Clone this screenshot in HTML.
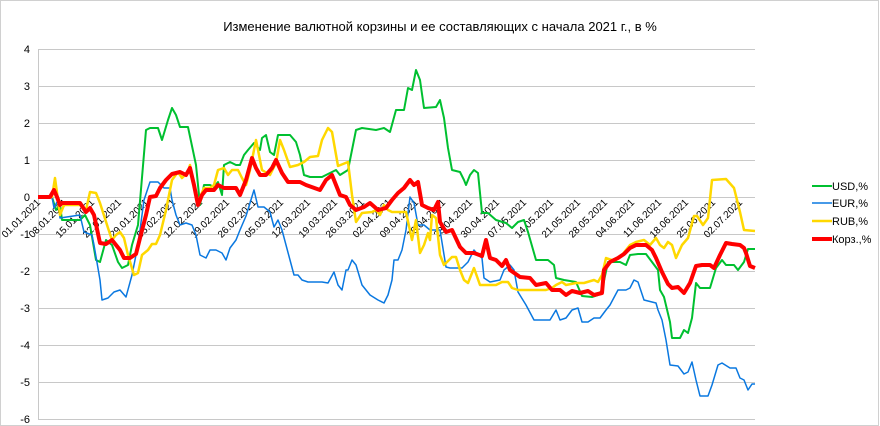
<!DOCTYPE html>
<html><head><meta charset="utf-8"><style>
html,body{margin:0;padding:0;background:#fff}
svg{display:block;font-family:"Liberation Sans",sans-serif}
</style></head><body>
<svg width="880" height="426" viewBox="0 0 880 426" xmlns="http://www.w3.org/2000/svg">
<rect x="0.5" y="0.5" width="878" height="425" fill="#fff" stroke="#d0d0d0"/>
<text x="440" y="31" font-size="13" text-anchor="middle" fill="#000">Изменение  валютной корзины  и ее составляющих  с начала 2021 г., в %</text>
<g stroke="#c8c8c8" stroke-width="1">
<line x1="38" x2="755" y1="49.5" y2="49.5"/><line x1="38" x2="755" y1="86.5" y2="86.5"/>
<line x1="38" x2="755" y1="123.5" y2="123.5"/><line x1="38" x2="755" y1="160.5" y2="160.5"/>
<line x1="38" x2="755" y1="197.5" y2="197.5"/><line x1="38" x2="755" y1="234.5" y2="234.5"/>
<line x1="38" x2="755" y1="271.5" y2="271.5"/><line x1="38" x2="755" y1="308.5" y2="308.5"/>
<line x1="38" x2="755" y1="345.5" y2="345.5"/><line x1="38" x2="755" y1="382.5" y2="382.5"/>
<line x1="38" x2="755" y1="419.5" y2="419.5"/>
<line x1="38.5" x2="38.5" y1="49" y2="420"/>
</g>
<g font-size="11" text-anchor="end" fill="#000">
<text x="30" y="53">4</text><text x="30" y="90">3</text><text x="30" y="127">2</text><text x="30" y="164">1</text><text x="30" y="201">0</text><text x="30" y="238">-1</text><text x="30" y="275">-2</text><text x="30" y="312">-3</text><text x="30" y="349">-4</text><text x="30" y="386">-5</text><text x="30" y="423">-6</text>
</g>
<g font-size="10" text-anchor="end" fill="#000">
<text transform="translate(41,203) rotate(-45)">01.01.2021</text>
<text transform="translate(68,203) rotate(-45)">08.01.2021</text>
<text transform="translate(95,203) rotate(-45)">15.01.2021</text>
<text transform="translate(122,203) rotate(-45)">22.01.2021</text>
<text transform="translate(149,203) rotate(-45)">29.01.2021</text>
<text transform="translate(176,203) rotate(-45)">05.02.2021</text>
<text transform="translate(203,203) rotate(-45)">12.02.2021</text>
<text transform="translate(230,203) rotate(-45)">19.02.2021</text>
<text transform="translate(257,203) rotate(-45)">26.02.2021</text>
<text transform="translate(284,203) rotate(-45)">05.03.2021</text>
<text transform="translate(311,203) rotate(-45)">12.03.2021</text>
<text transform="translate(338,203) rotate(-45)">19.03.2021</text>
<text transform="translate(365,203) rotate(-45)">26.03.2021</text>
<text transform="translate(392,203) rotate(-45)">02.04.2021</text>
<text transform="translate(419,203) rotate(-45)">09.04.2021</text>
<text transform="translate(446,203) rotate(-45)">16.04.2021</text>
<text transform="translate(473,203) rotate(-45)">23.04.2021</text>
<text transform="translate(500,203) rotate(-45)">30.04.2021</text>
<text transform="translate(527,203) rotate(-45)">07.05.2021</text>
<text transform="translate(554,203) rotate(-45)">14.05.2021</text>
<text transform="translate(581,203) rotate(-45)">21.05.2021</text>
<text transform="translate(608,203) rotate(-45)">28.05.2021</text>
<text transform="translate(635,203) rotate(-45)">04.06.2021</text>
<text transform="translate(662,203) rotate(-45)">11.06.2021</text>
<text transform="translate(689,203) rotate(-45)">18.06.2021</text>
<text transform="translate(716,203) rotate(-45)">25.06.2021</text>
<text transform="translate(743,203) rotate(-45)">02.07.2021</text>
</g>
<g fill="none" stroke-linejoin="round">
<polyline stroke="#00c030" stroke-width="2" points="38,197 52,197 56,210 60,205 62,220 80,220 85,215 90,225 96,260 100,262 106,240 112,245 118,262 122,268 128,265 132,245 138,225 146,130 150,128 158,128 162,140 168,120 172,108 176,115 180,127 188,127 196,165 200,205 204,185 210,185 214,187 218,182 222,195 224,165 230,162 236,165 240,165 244,155 248,150 254,143 260,150 262,138 266,135 270,152 274,155 278,135 290,135 296,142 300,155 304,175 310,177 322,177 336,170 340,175 348,170 356,130 362,128 376,130 384,128 390,132 396,110 404,110 408,88 412,90 416,70 420,80 424,108 436,107 440,100 444,118 448,148 452,170 460,172 464,180 466,185 470,175 474,170 478,173 482,213 488,213 496,220 506,223 512,228 518,222 524,220 528,232 536,260 548,260 554,265 556,278 564,280 576,282 582,296 592,297 598,295 602,290 608,262 620,262 626,265 630,255 638,254 646,254 652,262 658,270 660,290 664,297 670,322 672,338 680,338 684,330 688,333 692,318 696,283 700,288 710,288 716,268 722,260 726,265 734,265 738,270 744,262 748,249 755,249"/>
<polyline stroke="#0a78e0" stroke-width="1.5" points="38,197 52,197 54,208 58,200 60,218 80,215 84,232 92,235 94,245 100,280 102,300 108,298 114,292 120,290 126,297 132,275 136,255 140,230 144,200 150,182 158,182 164,188 170,188 172,200 176,215 180,225 186,223 192,225 196,235 200,255 206,258 210,250 216,250 222,253 226,260 230,248 236,240 240,230 246,216 254,190 258,207 264,207 270,212 274,227 278,220 282,230 290,260 294,275 298,275 302,280 308,282 322,282 328,283 334,272 338,285 342,290 346,270 348,270 352,260 356,265 362,285 370,295 378,300 384,303 388,295 392,280 394,260 398,260 402,250 406,230 410,197 414,203 418,225 424,225 430,230 440,230 446,267 450,268 462,268 468,262 474,250 478,255 482,258 484,278 490,282 500,280 504,270 510,265 514,270 518,292 526,305 534,320 550,320 556,310 560,320 566,318 572,310 578,308 582,322 588,322 594,318 600,318 606,310 610,305 618,290 626,290 630,288 634,280 638,282 644,300 656,303 658,310 662,320 666,340 670,365 678,366 684,374 688,372 692,362 696,380 700,396 708,396 712,385 718,365 722,363 730,368 736,368 740,378 744,380 748,390 752,384 755,384"/>
<polyline stroke="#ffd800" stroke-width="2.5" points="38,197 52,197 55,178 58,200 60,215 64,205 80,205 86,210 90,192 96,193 100,203 108,228 112,240 116,235 120,232 124,238 128,255 134,275 138,273 142,255 148,250 152,244 156,244 160,235 166,210 172,180 178,172 182,178 188,172 190,165 194,185 198,202 204,188 210,188 214,185 218,170 224,168 228,175 232,170 238,170 242,178 246,185 250,170 256,140 258,150 262,170 270,175 276,163 280,140 284,150 290,167 298,165 304,162 310,157 318,156 322,140 328,128 332,132 338,166 348,162 352,195 356,222 362,213 372,212 376,210 380,215 384,205 388,210 392,212 406,212 412,240 416,220 420,253 424,245 428,233 430,240 432,215 436,218 440,255 444,265 452,257 456,257 460,270 464,280 468,283 474,268 480,285 496,285 502,282 508,282 512,288 518,290 546,290 552,288 556,285 562,282 566,285 576,283 584,283 594,280 598,282 602,275 606,258 612,260 618,258 622,255 626,250 630,245 636,242 644,240 650,245 656,238 660,245 664,248 668,242 672,245 676,258 682,245 688,238 694,216 697,216 703,225 708,218 712,180 726,179 734,188 740,212 744,230 755,231"/>
<polyline stroke="#ff0000" stroke-width="4" points="38,197 50,197 54,190 57,197 60,205 62,203 80,203 86,212 90,208 94,215 100,243 106,244 112,240 120,250 124,258 130,258 136,254 140,238 146,215 150,197 156,196 160,188 166,180 172,174 180,172 186,175 190,168 194,185 198,205 202,195 206,190 214,190 218,185 224,188 236,188 240,195 246,180 252,158 256,168 260,175 266,175 272,168 276,160 282,173 288,182 300,182 306,185 320,190 326,180 332,175 336,185 340,195 346,197 350,205 356,210 364,207 370,203 378,210 386,208 392,200 398,193 404,188 410,180 414,185 418,182 422,205 428,208 434,210 438,202 440,222 446,232 452,230 460,247 466,253 474,253 482,256 486,240 490,258 496,260 502,266 506,260 510,270 520,277 530,278 536,285 546,283 552,290 560,290 566,295 572,291 580,293 588,291 594,295 602,293 604,270 610,262 618,258 624,254 630,248 636,245 646,245 652,250 656,258 662,272 668,284 672,288 678,287 684,293 690,283 696,266 702,265 710,265 714,268 720,255 726,243 732,244 740,245 744,248 746,253 750,266 755,268"/>
</g>
<g font-size="11" fill="#000">
<line x1="812" x2="832" y1="186" y2="186" stroke="#00c030" stroke-width="2"/><text x="832" y="190">USD,%</text>
<line x1="812" x2="832" y1="203" y2="203" stroke="#0a78e0" stroke-width="1.5"/><text x="832" y="207">EUR,%</text>
<line x1="812" x2="832" y1="221" y2="221" stroke="#ffd800" stroke-width="2.5"/><text x="832" y="225">RUB,%</text>
<line x1="812" x2="832" y1="239" y2="239" stroke="#ff0000" stroke-width="4"/><text x="832" y="243">Корз.,%</text>
</g>
</svg>
</body></html>
